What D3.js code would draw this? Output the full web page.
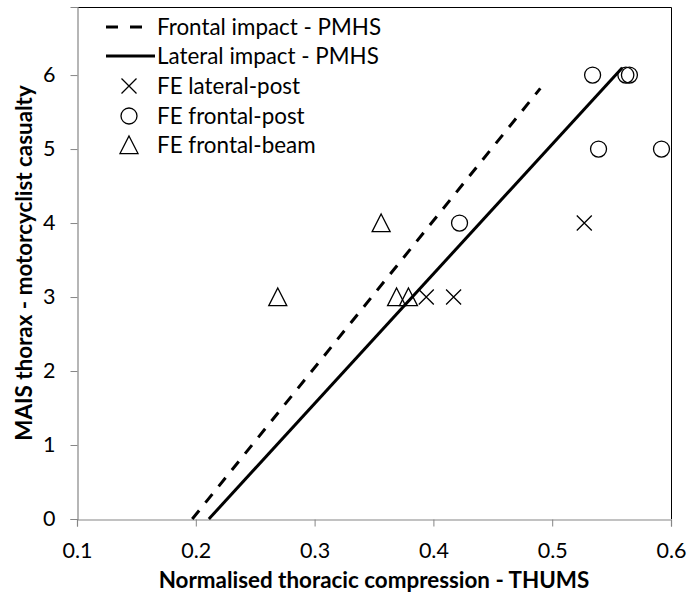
<!DOCTYPE html>
<html>
<head>
<meta charset="utf-8">
<script src="https://cdn.jsdelivr.net/npm/d3@7"></script>
<style>
  html, body { margin: 0; padding: 0; background: #fff; }
  svg { display: block; font-family: Lato, "Open Sans", sans-serif; }
</style>
</head>
<body>
<svg id="chart" width="688" height="593"></svg>
<script>
// ---- data ----
const xTicks = [0.1, 0.2, 0.3, 0.4, 0.5, 0.6];
const yTicks = [0, 1, 2, 3, 4, 5, 6];
const seriesNames = ["Frontal impact - PMHS", "Lateral impact - PMHS", "FE lateral-post", "FE frontal-post", "FE frontal-beam"];
const frontalPMHS = [[0.197, 0], [0.49, 5.82]];
const lateralPMHS = [[0.211, 0], [0.559, 6.1]];
const feLateralPost = [[0.394, 3], [0.417, 3], [0.527, 4]];
const feFrontalPost = [[0.534, 6], [0.562, 6], [0.565, 6], [0.539, 5], [0.592, 5], [0.422, 4]];
const feFrontalBeam = [[0.269, 3], [0.369, 3], [0.379, 3], [0.356, 4]];
const xTitle = "Normalised thoracic compression - THUMS";
const yTitle = "MAIS thorax - motorcyclist casualty";

// ---- layout ----
const svg = d3.select("#chart");
const pL = 77, pR = 671, pT = 7, pB = 519;
const x = d3.scaleLinear().domain([0.1, 0.6]).range([pL, pR]);
const y = d3.scaleLinear().domain([0, 6.92]).range([pB, pT]);
const axisColor = "#868686";
const fs = 22.4;
const tfs = 21.5;

// plot border (top/right black)
svg.append("path")
  .attr("d", `M${pL},${pT + 0.5}H${pR + 0.5}V${pB}`)
  .attr("fill", "none").attr("stroke", "#000").attr("stroke-width", 1);

// x axis
const xAxis = svg.append("g").attr("transform", `translate(0,${pB + 0.5})`)
  .call(d3.axisBottom(x).tickValues(xTicks).tickFormat(d3.format(".1f")).tickSize(7).tickPadding(16));
xAxis.select(".domain").attr("stroke", axisColor).attr("stroke-width", 1.2);
xAxis.selectAll(".tick line").attr("stroke", axisColor);
xAxis.selectAll(".tick text").attr("font-size", tfs).attr("fill", "#000").attr("font-family", "Lato");

// y axis
const yAxis = svg.append("g").attr("transform", `translate(${pL + 0.5},0)`)
  .call(d3.axisLeft(y).tickValues(yTicks).tickFormat(d3.format("d")).tickSize(7).tickPadding(15));
yAxis.select(".domain").attr("stroke", axisColor).attr("stroke-width", 1.2);
yAxis.selectAll(".tick line").attr("stroke", axisColor);
yAxis.selectAll(".tick text").attr("font-size", tfs).attr("fill", "#000").attr("font-family", "Lato");

// titles
svg.append("text").attr("x", (pL + pR) / 2).attr("y", 588)
  .attr("text-anchor", "middle").attr("font-size", fs).attr("font-weight", "bold").text(xTitle);
svg.append("text").attr("transform", `translate(32,${(pT + pB) / 2}) rotate(-90)`)
  .attr("text-anchor", "middle").attr("font-size", fs).attr("font-weight", "bold").text(yTitle);

// lines
const line = d3.line().x(d => x(d[0])).y(d => y(d[1]));
svg.append("path").datum(frontalPMHS).attr("d", line)
  .attr("fill", "none").attr("stroke", "#000").attr("stroke-width", 3).attr("stroke-dasharray", "11,10");
svg.append("path").datum(lateralPMHS).attr("d", line)
  .attr("fill", "none").attr("stroke", "#000").attr("stroke-width", 3);

// markers
const sw = 1.3;
function cross(g, cx, cy, r) {
  g.append("path").attr("d", `M${cx - r},${cy - r}L${cx + r},${cy + r}M${cx - r},${cy + r}L${cx + r},${cy - r}`)
    .attr("stroke", "#000").attr("stroke-width", sw).attr("fill", "none");
}
function circ(g, cx, cy, r) {
  g.append("circle").attr("cx", cx).attr("cy", cy).attr("r", r)
    .attr("stroke", "#000").attr("stroke-width", sw).attr("fill", "none");
}
function tri(g, cx, cy, r) {
  g.append("path").attr("d", `M${cx},${cy - r}L${cx + r},${cy + r * 0.95}L${cx - r},${cy + r * 0.95}Z`)
    .attr("stroke", "#000").attr("stroke-width", sw).attr("fill", "none");
}
const gm = svg.append("g");
feLateralPost.forEach(d => cross(gm, x(d[0]), y(d[1]), 7.5));
feFrontalPost.forEach(d => circ(gm, x(d[0]), y(d[1]), 8));
feFrontalBeam.forEach(d => tri(gm, x(d[0]), y(d[1]), 9));

// legend
const lg = svg.append("g");
const rowY = [27, 56, 86, 116, 145];
const textX = 157;
seriesNames.forEach((name, i) => {
  const yy = rowY[i];
  if (i === 0) {
    lg.append("path").attr("d", `M106,${yy}H154`).attr("stroke", "#000").attr("stroke-width", 3).attr("stroke-dasharray", "12,12");
  } else if (i === 1) {
    lg.append("path").attr("d", `M106,${yy}H155`).attr("stroke", "#000").attr("stroke-width", 3);
  } else if (i === 2) {
    cross(lg, 129, yy, 7.5);
  } else if (i === 3) {
    circ(lg, 129, yy, 8);
  } else {
    tri(lg, 129, yy, 9);
  }
  lg.append("text").attr("x", textX).attr("y", yy).attr("dy", "0.35em")
    .attr("font-size", fs).text(name);
});
</script>
</body>
</html>
